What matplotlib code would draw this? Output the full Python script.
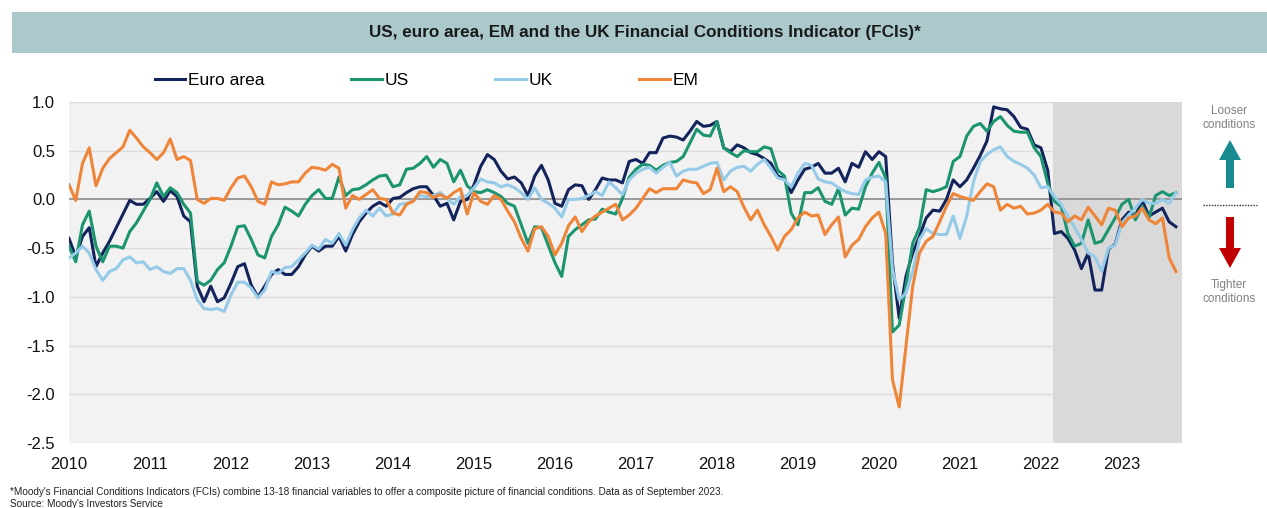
import numpy as np
import matplotlib
matplotlib.use('Agg')
import matplotlib.pyplot as plt
from matplotlib.patches import Rectangle, FancyArrow
from matplotlib.lines import Line2D
from matplotlib.transforms import Affine2D

plt.rcParams['font.family'] = ['Liberation Sans', 'DejaVu Sans']

# monthly data, Jan 2010 .. Sep 2023
years = list(range(2010, 2024))

euro_area = [
    -0.40, -0.59, -0.38, -0.29, -0.69, -0.55, -0.43, -0.29, -0.15, -0.01, -0.05, -0.05,
    0.01, 0.08, -0.02, 0.09, 0.03, -0.17, -0.23, -0.89, -1.05, -0.89, -1.05, -1.01,
    -0.86, -0.69, -0.66, -0.88, -1.00, -0.89, -0.77, -0.72, -0.77, -0.77, -0.69, -0.57,
    -0.48, -0.53, -0.48, -0.48, -0.38, -0.53, -0.36, -0.23, -0.14, -0.07, -0.03, -0.07,
    0.01, 0.02, 0.07, 0.11, 0.13, 0.13, 0.04, -0.07, -0.04, -0.21, -0.02, 0.00,
    0.15, 0.34, 0.46, 0.41, 0.29, 0.21, 0.23, 0.17, 0.04, 0.24, 0.35, 0.20,
    -0.04, -0.07, 0.10, 0.15, 0.14, 0.00, 0.10, 0.22, 0.20, 0.20, 0.17, 0.39,
    0.41, 0.37, 0.48, 0.48, 0.63, 0.65, 0.64, 0.61, 0.70, 0.80, 0.75, 0.76,
    0.80, 0.53, 0.49, 0.56, 0.53, 0.48, 0.46, 0.42, 0.37, 0.24, 0.21, 0.07,
    0.20, 0.31, 0.33, 0.37, 0.27, 0.27, 0.32, 0.18, 0.37, 0.33, 0.49, 0.41,
    0.49, 0.44, -0.65, -1.22, -0.79, -0.55, -0.38, -0.19, -0.11, -0.12, 0.00, 0.20,
    0.13, 0.20, 0.32, 0.45, 0.60, 0.95, 0.93, 0.92, 0.85, 0.74, 0.72, 0.56,
    0.53, 0.30, -0.35, -0.33, -0.40, -0.52, -0.71, -0.55, -0.93, -0.93, -0.51, -0.46,
    -0.21, -0.13, -0.17, -0.01, -0.17, -0.13, -0.09, -0.23, -0.28,
]

us = [
    -0.48, -0.64, -0.26, -0.12, -0.48, -0.64, -0.48, -0.48, -0.50, -0.33, -0.24, -0.12,
    0.00, 0.17, 0.03, 0.12, 0.07, -0.05, -0.14, -0.84, -0.88, -0.83, -0.72, -0.65,
    -0.48, -0.28, -0.27, -0.41, -0.57, -0.60, -0.38, -0.26, -0.08, -0.12, -0.17, -0.05,
    0.04, 0.10, 0.01, 0.01, 0.23, 0.04, 0.10, 0.11, 0.15, 0.20, 0.24, 0.25,
    0.13, 0.15, 0.31, 0.32, 0.37, 0.44, 0.33, 0.41, 0.37, 0.18, 0.30, 0.14,
    0.08, 0.07, 0.10, 0.07, 0.03, -0.04, -0.07, -0.26, -0.45, -0.28, -0.29, -0.47,
    -0.65, -0.79, -0.38, -0.31, -0.26, -0.21, -0.20, -0.10, -0.13, -0.15, 0.01, 0.23,
    0.31, 0.36, 0.35, 0.30, 0.35, 0.38, 0.39, 0.44, 0.58, 0.72, 0.66, 0.65,
    0.80, 0.53, 0.48, 0.44, 0.50, 0.49, 0.49, 0.54, 0.52, 0.30, 0.24, -0.14,
    -0.26, 0.07, 0.07, 0.12, -0.02, -0.05, 0.11, -0.16, -0.09, -0.10, 0.13, 0.27,
    0.38, 0.22, -1.36, -1.29, -0.89, -0.45, -0.29, 0.10, 0.08, 0.10, 0.13, 0.39,
    0.44, 0.65, 0.75, 0.78, 0.70, 0.80, 0.85, 0.76, 0.70, 0.69, 0.69, 0.53,
    0.44, 0.17, -0.02, -0.07, -0.35, -0.48, -0.45, -0.21, -0.45, -0.43, -0.31, -0.19,
    -0.05, 0.00, -0.21, -0.07, -0.19, 0.04, 0.08, 0.04, 0.07,
]

uk = [
    -0.60, -0.55, -0.48, -0.55, -0.72, -0.83, -0.74, -0.71, -0.62, -0.59, -0.65, -0.64,
    -0.72, -0.69, -0.74, -0.76, -0.71, -0.71, -0.83, -1.03, -1.12, -1.13, -1.12, -1.15,
    -0.98, -0.85, -0.85, -0.91, -1.01, -0.93, -0.74, -0.76, -0.70, -0.69, -0.62, -0.55,
    -0.47, -0.51, -0.41, -0.45, -0.35, -0.47, -0.31, -0.19, -0.11, -0.17, -0.09, -0.17,
    -0.15, -0.05, -0.04, -0.01, 0.04, 0.03, 0.04, 0.07, 0.01, -0.05, 0.03, 0.04,
    0.12, 0.21, 0.18, 0.17, 0.13, 0.15, 0.12, 0.07, 0.00, 0.12, 0.00, -0.04,
    -0.09, -0.18, 0.00, 0.00, 0.01, 0.04, 0.08, 0.04, 0.18, 0.12, 0.05, 0.20,
    0.27, 0.31, 0.33, 0.27, 0.33, 0.38, 0.24, 0.29, 0.31, 0.31, 0.34, 0.37,
    0.38, 0.20, 0.29, 0.33, 0.34, 0.29, 0.36, 0.41, 0.32, 0.22, 0.20, 0.13,
    0.27, 0.37, 0.35, 0.21, 0.18, 0.17, 0.12, 0.08, 0.06, 0.05, 0.20, 0.23,
    0.24, 0.18, -0.71, -1.03, -0.96, -0.74, -0.41, -0.30, -0.35, -0.36, -0.36, -0.17,
    -0.40, -0.17, 0.18, 0.39, 0.46, 0.51, 0.54, 0.44, 0.39, 0.36, 0.32, 0.25,
    0.12, 0.13, 0.03, -0.05, -0.17, -0.29, -0.41, -0.55, -0.59, -0.74, -0.50, -0.47,
    -0.24, -0.16, -0.09, 0.00, -0.04, -0.04, 0.00, -0.04, 0.07,
]

em = [
    0.15, -0.01, 0.37, 0.53, 0.14, 0.32, 0.42, 0.48, 0.54, 0.71, 0.63, 0.54,
    0.48, 0.41, 0.48, 0.62, 0.41, 0.44, 0.40, 0.00, -0.04, 0.01, 0.01, -0.01,
    0.12, 0.22, 0.24, 0.13, -0.02, -0.05, 0.18, 0.15, 0.16, 0.18, 0.18, 0.27,
    0.33, 0.32, 0.30, 0.36, 0.32, -0.09, 0.04, 0.00, 0.05, 0.10, 0.01, 0.00,
    -0.14, -0.16, -0.05, -0.02, 0.08, 0.07, 0.02, 0.05, 0.01, 0.07, 0.11, -0.15,
    0.07, -0.02, -0.05, 0.04, 0.00, -0.12, -0.23, -0.40, -0.53, -0.30, -0.28, -0.38,
    -0.57, -0.45, -0.27, -0.18, -0.33, -0.23, -0.17, -0.13, -0.09, -0.05, -0.21, -0.16,
    -0.09, 0.01, 0.11, 0.07, 0.11, 0.11, 0.11, 0.20, 0.18, 0.17, 0.06, 0.10,
    0.32, 0.08, 0.13, 0.08, -0.08, -0.21, -0.11, -0.26, -0.38, -0.52, -0.38, -0.31,
    -0.19, -0.13, -0.17, -0.16, -0.36, -0.26, -0.18, -0.59, -0.47, -0.41, -0.28, -0.19,
    -0.13, -0.35, -1.85, -2.13, -1.51, -0.89, -0.55, -0.43, -0.38, -0.23, -0.07, 0.06,
    0.03, 0.01, -0.01, 0.08, 0.16, 0.13, -0.11, -0.05, -0.09, -0.07, -0.15, -0.14,
    -0.11, -0.05, -0.13, -0.14, -0.23, -0.17, -0.21, -0.08, -0.17, -0.26, -0.09, -0.11,
    -0.28, -0.19, -0.17, -0.09, -0.21, -0.25, -0.19, -0.60, -0.74,
]

series = [
    ('Euro area', euro_area, '#13235b'),
    ('US', us, '#1b9470'),
    ('UK', uk, '#95cbe8'),
    ('EM', em, '#ee8538'),
]

shade_start = 145.8  # month index where the shaded period begins

W, H = 1267, 508
fig = plt.figure(figsize=(W / 100, H / 100), dpi=100)
ax = fig.add_axes([69 / W, 1 - 443 / H, (1182 - 69) / W, (443 - 102) / H])

# pixel coordinates (origin top-left) for the decorations
px = Affine2D().scale(1 / W, -1 / H).translate(0, 1) + fig.transFigure

months = np.arange(len(euro_area))

ax.set_facecolor('#f2f2f2')
ax.axvspan(shade_start, len(months) - 0.1, color='#d9d9d9', lw=0, zorder=1)
ax.axhline(0, color='#8c8c8c', lw=1.2, zorder=1.5)

handles = []
for name, vals, color in series:
    ln, = ax.plot(months, vals, color=color, lw=2.2, label=name, zorder=3,
                  solid_joinstyle='round')
    handles.append(ln)

ax.set_xlim(0, len(months) - 0.1)
ax.set_ylim(-2.5, 1.0)
ax.set_yticks(np.arange(-2.5, 1.01, 0.5))
ax.set_yticklabels([f'{v:.1f}' for v in np.arange(-2.5, 1.01, 0.5)])
ax.set_xticks([12 * i for i in range(len(years))])
ax.set_xticklabels([str(y) for y in years])
ax.tick_params(axis='both', length=0, labelsize=12, colors='#111111')
ax.tick_params(axis='x', pad=10)
ax.tick_params(axis='y', pad=10)
ax.set_axisbelow(True)
ax.grid(axis='y', color='#dcdcdc', lw=1.0)
for s in ax.spines.values():
    s.set_visible(False)

ax.legend(handles=handles, ncol=4, frameon=False, loc='center left',
          bbox_to_anchor=(155, 80), bbox_transform=px, fontsize=12.5,
          handlelength=1.75, handletextpad=0.15, columnspacing=5.0,
          borderpad=0, borderaxespad=0)

# title banner
fig.add_artist(Rectangle((12, 12), W - 12, 41, transform=px,
                         facecolor='#abc9cb', edgecolor='none'))
fig.text(645, 33, 'US, euro area, EM and the UK Financial Conditions Indicator (FCIs)*',
         transform=px, ha='center', va='center', fontsize=12.3, fontweight='bold',
         color='#1a1a1a')

# looser / tighter side note
fig.text(1229, 118, 'Looser\nconditions', transform=px, ha='center', va='center',
         fontsize=8.5, color='#808080', linespacing=1.25)
fig.text(1229, 292, 'Tighter\nconditions', transform=px, ha='center', va='center',
         fontsize=8.5, color='#808080', linespacing=1.25)
fig.add_artist(FancyArrow(1230, 188, 0, -48, width=8, head_width=22, head_length=20,
                          length_includes_head=True, transform=px,
                          facecolor='#178b8f', edgecolor='none'))
fig.add_artist(FancyArrow(1230, 217, 0, 51, width=8, head_width=22, head_length=20,
                          length_includes_head=True, transform=px,
                          facecolor='#c00000', edgecolor='none'))
fig.add_artist(Line2D([1203, 1257], [205, 205], transform=px, color='#333333',
                      lw=1.0, linestyle=(0, (1, 1))))

# footnote
fig.text(10, 492, "*Moody's Financial Conditions Indicators (FCIs) combine 13-18 financial "
         "variables to offer a composite picture of financial conditions. Data as of September 2023.",
         transform=px, ha='left', va='center', fontsize=7.2, color='#222222')
fig.text(10, 504, "Source: Moody's Investors Service", transform=px, ha='left',
         va='center', fontsize=7.2, color='#222222')

fig.savefig('out.png', dpi=100)
plt.close(fig)
